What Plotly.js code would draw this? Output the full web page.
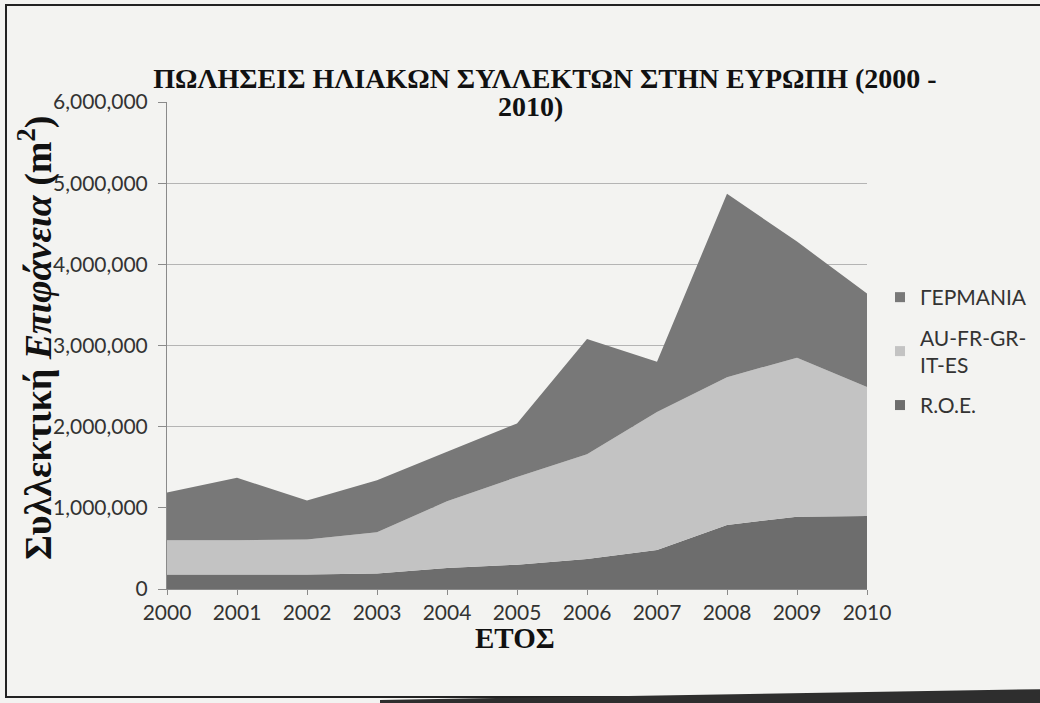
<!DOCTYPE html>
<html>
<head>
<meta charset="utf-8">
<script src="https://cdn.plot.ly/plotly-3.0.1.min.js"></script>
<style>
  html, body { margin: 0; padding: 0; background: #f3f3f1; }
  #chart { width: 1040px; height: 703px; }
</style>
</head>
<body>
<div id="chart"></div>
<script>
// Years (category axis)
const years = [2000, 2001, 2002, 2003, 2004, 2005, 2006, 2007, 2008, 2009, 2010];
// Stacked layers (m²), bottom to top
const roe     = [180000, 180000, 180000, 190000, 260000, 300000, 370000, 480000, 790000, 890000, 900000];
const southEU = [420000, 420000, 430000, 510000, 820000, 1080000, 1290000, 1700000, 1820000, 1960000, 1590000];
const germany = [590000, 770000, 480000, 640000, 610000, 660000, 1420000, 620000, 2260000, 1430000, 1150000];

const seriesNames = ['R.O.E.', 'AU-FR-GR-<br>IT-ES', 'ΓΕΡΜΑΝΙΑ'];
const seriesColors = ['#6d6d6d', '#c3c3c3', '#787878'];
const yTicks = [0, 1000000, 2000000, 3000000, 4000000, 5000000, 6000000];
const titleLine1 = 'ΠΩΛΗΣΕΙΣ ΗΛΙΑΚΩΝ ΣΥΛΛΕΚΤΩΝ ΣΤΗΝ ΕΥΡΩΠΗ (2000 -';
const titleLine2 = '2010)';
const yTitle = '<b>Συλλεκτική <i>Επιφάνεια</i> (m<sup>2</sup>)</b>';
const xTitle = '<b>ΕΤΟΣ</b>';

const values = [roe, southEU, germany];
const areaTraces = values.map((v, i) => ({
  x: years,
  y: v,
  name: seriesNames[i],
  type: 'scatter',
  mode: 'none',
  stackgroup: 'one',
  fill: 'tonexty',
  fillcolor: seriesColors[i],
  showlegend: false,
  hoverinfo: 'x+y+name'
}));
// legend entries with square keys (no data drawn), top layer listed first
const legendTraces = [2, 1, 0].map(i => ({
  x: [null],
  y: [null],
  name: seriesNames[i],
  type: 'scatter',
  mode: 'markers',
  marker: { symbol: 'square', size: 10, color: seriesColors[i] },
  legendgroup: 'g' + i,
  showlegend: true
}));

const serif = 'Liberation Serif, Times New Roman, serif';
const sans = 'Lato, Open Sans, sans-serif';

// pixel -> paper helpers (plot area: x 167..867, y 102..589)
const px = v => (v - 167) / 700;
const py = v => (589 - v) / 487;

const layout = {
  width: 1040,
  height: 703,
  paper_bgcolor: '#f3f3f1',
  plot_bgcolor: '#f3f3f1',
  margin: { l: 167, r: 173, t: 102, b: 114, autoexpand: false },
  title: {
    text: '<b>' + titleLine1 + '</b>',
    font: { family: serif, size: 28, color: '#111' },
    x: 0.524, xanchor: 'center',
    y: 1 - 78 / 703, yanchor: 'middle'
  },
  annotations: [
    { text: '<b>' + titleLine2 + '</b>', xref: 'paper', yref: 'paper',
      x: px(530), y: py(106), xanchor: 'center', yanchor: 'middle', showarrow: false,
      font: { family: serif, size: 28, color: '#111' } },
    { text: yTitle, xref: 'paper', yref: 'paper', textangle: -90,
      x: px(35), y: py(338), xanchor: 'center', yanchor: 'middle', showarrow: false,
      font: { family: serif, size: 38, color: '#111' } },
    { text: xTitle, xref: 'paper', yref: 'paper',
      x: px(515), y: py(638), xanchor: 'center', yanchor: 'middle', showarrow: false,
      font: { family: serif, size: 29, color: '#111' } }
  ],
  xaxis: {
    range: [2000, 2010],
    tickvals: years,
    ticktext: years.map(String),
    showgrid: false,
    zeroline: false,
    showline: true,
    linecolor: '#8a8a8a',
    linewidth: 1,
    ticks: 'outside',
    ticklen: 5,
    tickcolor: '#8a8a8a',
    tickfont: { family: sans, size: 21, color: '#333' }
  },
  yaxis: {
    range: [0, 6000000],
    tickvals: yTicks,
    tickformat: ',d',
    showgrid: true,
    gridcolor: '#b4b4b4',
    gridwidth: 1,
    zeroline: false,
    showline: true,
    linecolor: '#8a8a8a',
    linewidth: 1,
    ticks: 'outside',
    ticklen: 8,
    tickcolor: '#8a8a8a',
    ticklabelstandoff: 6,
    tickfont: { family: sans, size: 21, color: '#333' }
  },
  showlegend: true,
  legend: {
    x: px(880), xanchor: 'left',
    y: py(277), yanchor: 'top',
    traceorder: 'grouped',
    tracegroupgap: 10,
    bgcolor: 'rgba(0,0,0,0)',
    font: { family: sans, size: 21, color: '#333' }
  },
  shapes: [
    { type: 'rect', xref: 'paper', yref: 'paper',
      x0: px(6), x1: px(1050), y0: py(697), y1: py(5),
      line: { color: '#222', width: 2 }, fillcolor: 'rgba(0,0,0,0)', layer: 'below' },
    { type: 'path', xref: 'paper', yref: 'paper',
      path: 'M ' + px(380) + ' ' + py(700) + ' L ' + px(1050) + ' ' + py(689) +
            ' L ' + px(1050) + ' ' + py(710) + ' L ' + px(380) + ' ' + py(710) + ' Z',
      line: { width: 0 }, fillcolor: '#2e2e2e', layer: 'below' }
  ]
};

Plotly.newPlot('chart', areaTraces.concat(legendTraces), layout, { displayModeBar: false, staticPlot: true });
</script>
</body>
</html>
